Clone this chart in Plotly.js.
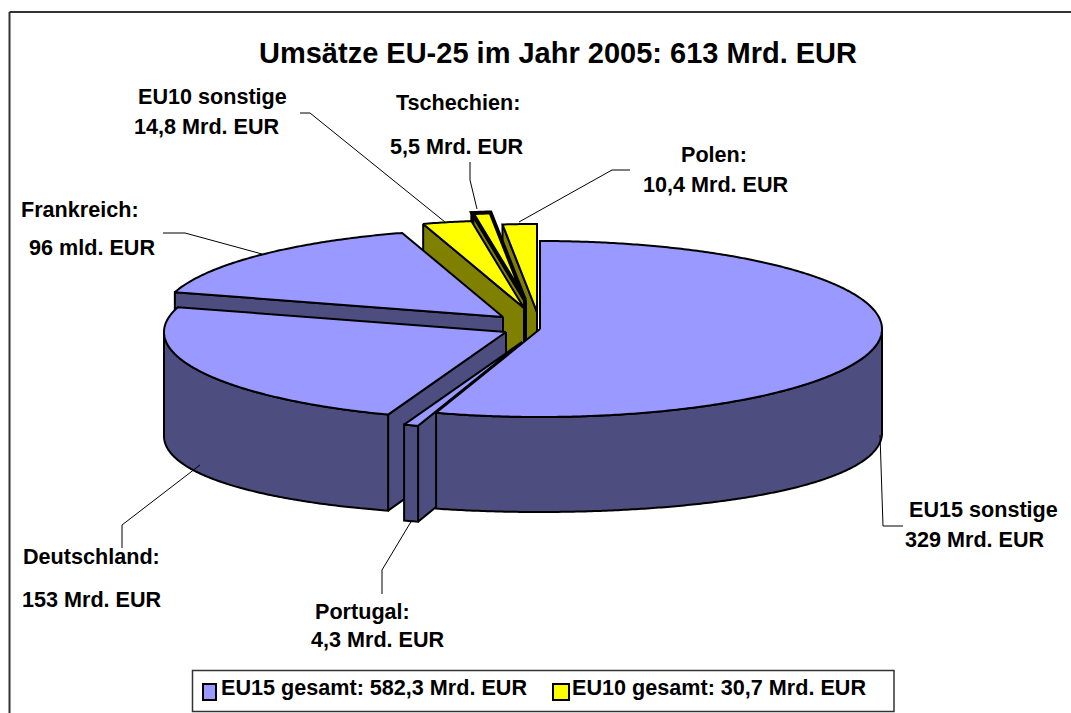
<!DOCTYPE html>
<html><head><meta charset="utf-8">
<script src="https://cdn.plot.ly/plotly-3.0.0.min.js"></script>
<style>html,body{margin:0;padding:0;background:#fff}#c{width:1071px;height:713px}</style>
</head><body><div id="c"></div>
<script>
// ---- data (Mrd. EUR), clockwise from 12 o'clock ----
var sliceNames = ["EU15 sonstige","Portugal","Deutschland","Frankreich","EU10 sonstige","Tschechien","Polen"];
var sliceValues = [329, 4.3, 153, 96, 14.8, 5.5, 10.4];
var sliceGroups = ["EU15","EU15","EU15","EU15","EU10","EU10","EU10"];
var legendLabels = ["EU15 gesamt: 582,3 Mrd. EUR","EU10 gesamt: 30,7 Mrd. EUR"];
var titleText = "Umsätze EU-25 im Jahr 2005: 613 Mrd. EUR";

// ---- 3D pie projection (axes are in page pixels) ----
var RX=342, RY=88, DEPTH=95;
var apexX=[540,522,506,503,524,525,537];
var apexY=[329,342,332,317,308,300,312];
var outlineW=[2,2,2,2,2,4,2];
var paint={EU15:{top:"#9999FF",wall:"#4D4D80"},EU10:{top:"#FFFF00",wall:"#808000"}};
var drawOrder=[6,5,4,3,2,1,0];

function warp(deg){ var r=deg*Math.PI/180, d=4.6*Math.max(0,-Math.cos(r));
  if(deg>270) d+=1.5*Math.max(0,-Math.sin(2*r));
  return deg+d; }
function pt(i,deg,down){ var r=warp(deg)*Math.PI/180, s=Math.sin(r);
  return [apexX[i]+RX*s, apexY[i]-RY*Math.cos(r)+(down?DEPTH+9*s*s:0)]; }
function arc(i,a,b,down){ var n=Math.max(2,Math.ceil(Math.abs(b-a))*2),o=[];
  for(var k=0;k<=n;k++) o.push(pt(i,a+(b-a)*k/n,down)); return o; }
function poly(pts,color,width,name){ var p=pts.concat([pts[0]]);
  return {type:"scatter",mode:"lines",x:p.map(function(q){return q[0]}),y:p.map(function(q){return q[1]}),
    fill:"toself",fillcolor:color,line:{color:"#000",width:width,simplify:false},
    hoverinfo:"name",name:name,showlegend:false}; }

var total=sliceValues.reduce(function(a,b){return a+b},0), start=[],cum=0;
sliceValues.forEach(function(v){start.push(cum);cum+=v/total*360;});

var traces=[];
drawOrder.forEach(function(i){
  var a=start[i], b=a+sliceValues[i]/total*360, c=paint[sliceGroups[i]], w=outlineW[i], nm=sliceNames[i];
  var ax=[apexX[i],apexY[i]], axd=[apexX[i],apexY[i]+DEPTH];
  if(Math.sin(a*Math.PI/180)<-1e-6){            // visible cut face
    traces.push(poly([ax,pt(i,a,false),pt(i,a,true),axd],c.wall,w,nm));
  }
  var ra=Math.max(a,90), rb=Math.min(b,270);
  if(rb>ra){                                    // visible rim
    traces.push(poly(arc(i,ra,rb,false).concat(arc(i,rb,ra,true)),c.wall,w,nm));
  }
  traces.push(poly([ax].concat(arc(i,a,b,false)),c.top,w,nm));
});

// ---- leader lines ----
var leaders=[
 [[300,113],[310,113],[445,222]],
 [[470,162],[470,180],[477,209]],
 [[630,170],[612,170],[519,222]],
 [[163,233],[185,233],[262,254]],
 [[122,548],[122,525],[200,465]],
 [[382,594],[382,570],[412,520]],
 [[880,435],[883,526],[903,526]]
];
leaders.forEach(function(l,i){
  traces.push({type:"scatter",mode:"lines",x:l.map(function(q){return q[0]}),y:l.map(function(q){return q[1]}),
    line:{color:"#000",width:1},hoverinfo:"skip",showlegend:false});
});

// ---- text ----
var labelLines=[
 ["EU10 sonstige",212,96],["14,8 Mrd. EUR",207,126],
 ["Tschechien:",458,102],["5,5 Mrd. EUR",457,146],
 ["Polen:",714,154],["10,4 Mrd. EUR",716,184],
 ["Frankreich:",80,209],["96 mld. EUR",92,247],
 ["Deutschland:",91,556],["153 Mrd. EUR",92,599],
 ["Portugal:",362,611],["4,3 Mrd. EUR",378,639],
 ["EU15 sonstige",983,509],["329 Mrd. EUR",975,539]
];
var F="Liberation Sans, Arial, sans-serif", FS=21.6;
var ann=labelLines.map(function(l){return {xref:"x",yref:"y",x:l[1],y:l[2],text:"<b>"+l[0]+"</b>",showarrow:false,
  xanchor:"center",yanchor:"middle",font:{family:F,size:FS,color:"#000"}};});
ann.push({xref:"x",yref:"y",x:219,y:687.5,text:"<b>"+legendLabels[0]+"</b>",showarrow:false,xanchor:"left",yanchor:"middle",font:{family:F,size:FS,color:"#000"}});
ann.push({xref:"x",yref:"y",x:570,y:687.5,text:"<b>"+legendLabels[1]+"</b>",showarrow:false,xanchor:"left",yanchor:"middle",font:{family:F,size:FS,color:"#000"}});

var shapes=[
 {type:"line",xref:"x",yref:"y",x0:9.5,y0:12,x1:1071,y1:12,line:{color:"#333",width:2},layer:"below"},
 {type:"line",xref:"x",yref:"y",x0:9.5,y0:12,x1:9.5,y1:713,line:{color:"#333",width:2},layer:"below"},
 {type:"rect",xref:"x",yref:"y",x0:192.5,y0:670.5,x1:894,y1:711.5,line:{color:"#333",width:1.5},fillcolor:"#fff",layer:"below"},
 {type:"rect",xref:"x",yref:"y",x0:203,y0:684,x1:216,y1:700,line:{color:"#000",width:2},fillcolor:paint.EU15.top},
 {type:"rect",xref:"x",yref:"y",x0:553,y0:684,x1:569,y1:700,line:{color:"#000",width:2},fillcolor:paint.EU10.top}
];

var hidden={range:[0,1071],visible:false,fixedrange:true};
var layout={width:1071,height:713,margin:{l:0,r:0,t:0,b:0},paper_bgcolor:"#fff",plot_bgcolor:"#fff",showlegend:false,
 title:{text:"<b>"+titleText+"</b>",x:558/1071,xanchor:"center",y:1-53/713,yanchor:"middle",font:{family:F,size:29,color:"#000"}},
 xaxis:hidden,yaxis:{range:[713,0],visible:false,fixedrange:true},shapes:shapes,annotations:ann};
Plotly.newPlot("c",traces,layout,{displayModeBar:false,staticPlot:true});
</script></body></html>
